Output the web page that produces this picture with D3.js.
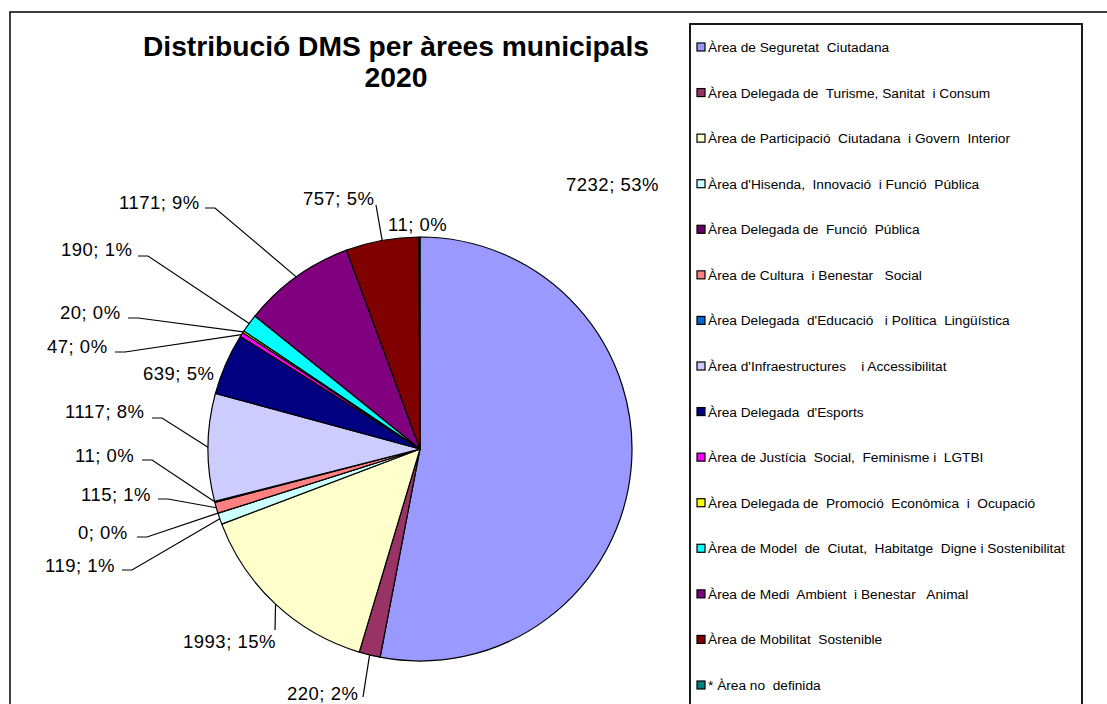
<!DOCTYPE html>
<html>
<head>
<meta charset="utf-8">
<script src="https://cdn.jsdelivr.net/npm/d3@7"></script>
<style>
  body { margin: 0; background: #fff; }
  svg { display: block; font-family: "Liberation Sans", Arial, sans-serif; }
</style>
</head>
<body>
<svg id="chart" width="1107" height="704"></svg>
<script>
// data, in pie order (clockwise from 12 o'clock)
const areas = [
  "Àrea de Seguretat  Ciutadana",
  "Àrea Delegada de  Turisme, Sanitat  i Consum",
  "Àrea de Participació  Ciutadana  i Govern  Interior",
  "Àrea d'Hisenda,  Innovació  i Funció  Pública",
  "Àrea Delegada de  Funció  Pública",
  "Àrea de Cultura  i Benestar   Social",
  "Àrea Delegada  d'Educació   i Política  Lingüística",
  "Àrea d'Infraestructures    i Accessibilitat",
  "Àrea Delegada  d'Esports",
  "Àrea de Justícia  Social,  Feminisme i  LGTBI",
  "Àrea Delegada de  Promoció  Econòmica  i  Ocupació",
  "Àrea de Model  de  Ciutat,  Habitatge  Digne i Sostenibilitat",
  "Àrea de Medi  Ambient  i Benestar   Animal",
  "Àrea de Mobilitat  Sostenible",
  "* Àrea no  definida"
];
const values = [7232, 220, 1993, 119, 0, 115, 11, 1117, 639, 47, 20, 190, 1171, 757, 11];
const colors = ["#9999FF", "#993366", "#FFFFCC", "#CCFFFF", "#660066", "#FF8080", "#0066CC",
  "#CCCCFF", "#000080", "#FF00FF", "#FFFF00", "#00FFFF", "#800080", "#800000", "#008080"];
const title = ["Distribució DMS per àrees municipals", "2020"];

// label placement (manual, as in the source chart): text start x, baseline y,
// and the start of the leader line that runs to the slice edge
const labelLayout = [
  {x: 566, y: 191, leader: false},
  {x: 287, y: 700, leader: true, lx: 363, ly: 697, vert: true},
  {x: 183, y: 648, leader: true, lx: 275, ly: 630, vert: true},
  {x: 45,  y: 572, leader: true, lx: 122, ly: 570},
  {x: 78,  y: 539, leader: true, lx: 137, ly: 537},
  {x: 81,  y: 501, leader: true, lx: 158, ly: 499},
  {x: 75,  y: 462, leader: true, lx: 142, ly: 460},
  {x: 65,  y: 418, leader: true, lx: 152, ly: 418},
  {x: 143, y: 380, leader: false},
  {x: 47,  y: 353, leader: true, lx: 115, ly: 352},
  {x: 60,  y: 319, leader: true, lx: 128, ly: 318},
  {x: 61,  y: 256, leader: true, lx: 138, ly: 256},
  {x: 119, y: 209, leader: true, lx: 205, ly: 208},
  {x: 303, y: 205, leader: true, lx: 376, ly: 205, vert: true},
  {x: 388, y: 231, leader: false}
];

const svg = d3.select("#chart");
const cx = 420, cy = 449, r = 212;

// outer chart border
svg.append("rect")
  .attr("x", 10).attr("y", 12).attr("width", 1110).attr("height", 710)
  .attr("fill", "none").attr("stroke", "#000").attr("stroke-width", 1.5);

// title (Excel draws it tall and narrow)
svg.append("g")
  .selectAll("text")
  .data(title)
  .join("text")
    .attr("x", 396)
    .attr("y", (d, i) => 56 + i * 31)
    .attr("text-anchor", "middle")
    .attr("font-size", 28)
    .attr("font-weight", "bold")
    .attr("textLength", (d, i) => i === 0 ? 506 : 63)
    .attr("lengthAdjust", "spacingAndGlyphs")
    .text(d => d);

const total = d3.sum(values);
const pie = d3.pie().sort(null).value(d => d)(values);
const arc = d3.arc().innerRadius(0).outerRadius(r);

// percentages the way Excel shows them: rounded so they add up to 100
const raw = values.map(v => v / total * 100);
const pct = raw.map(Math.floor);
let left = 100 - d3.sum(pct);
d3.range(values.length)
  .sort((a, b) => (raw[b] - pct[b]) - (raw[a] - pct[a]))
  .slice(0, left)
  .forEach(i => pct[i] += 1);

const g = svg.append("g").attr("transform", `translate(${cx},${cy})`);
g.selectAll("path")
  .data(pie)
  .join("path")
    .attr("d", arc)
    .attr("fill", (d, i) => colors[i])
    .attr("stroke", "#000")
    .attr("stroke-width", 1.2)
    .attr("stroke-linejoin", "round");

// leader lines
const edge = d => {
  const a = (d.startAngle + d.endAngle) / 2;
  return [cx + r * Math.sin(a), cy - r * Math.cos(a)];
};
svg.append("g")
  .selectAll("path")
  .data(pie.filter((d, i) => labelLayout[i].leader))
  .join("path")
    .attr("fill", "none")
    .attr("stroke", "#000")
    .attr("stroke-width", 1.2)
    .attr("d", d => {
      const L = labelLayout[d.index];
      const [ex, ey] = edge(d);
      if (L.vert) return `M${L.lx},${L.ly}L${ex},${ey}`;
      return `M${L.lx},${L.ly}H${L.lx + 10}L${ex},${ey}`;
    });

svg.append("g")
  .selectAll("text")
  .data(pie)
  .join("text")
    .attr("x", d => labelLayout[d.index].x)
    .attr("y", d => labelLayout[d.index].y)
    .attr("font-size", 18.5)
    .attr("letter-spacing", 0.5)
    .text(d => `${d.data}; ${pct[d.index]}%`);

// legend
const legend = svg.append("g");
legend.append("rect")
  .attr("x", 690).attr("y", 24).attr("width", 392).attr("height", 700)
  .attr("fill", "#fff").attr("stroke", "#000").attr("stroke-width", 1.8);

const ly = d3.scalePoint().domain(d3.range(areas.length)).range([47, 685]);
const item = legend.selectAll("g.item")
  .data(areas)
  .join("g")
    .attr("class", "item")
    .attr("transform", (d, i) => `translate(697,${ly(i)})`);
item.append("rect")
  .attr("x", 0).attr("y", -4).attr("width", 8).attr("height", 8)
  .attr("fill", (d, i) => colors[i])
  .attr("stroke", "#000").attr("stroke-width", 1.2);
item.append("text")
  .attr("x", 11).attr("y", 5)
  .attr("font-size", 13.7)
  .style("white-space", "pre")
  .text(d => d);
</script>
</body>
</html>
